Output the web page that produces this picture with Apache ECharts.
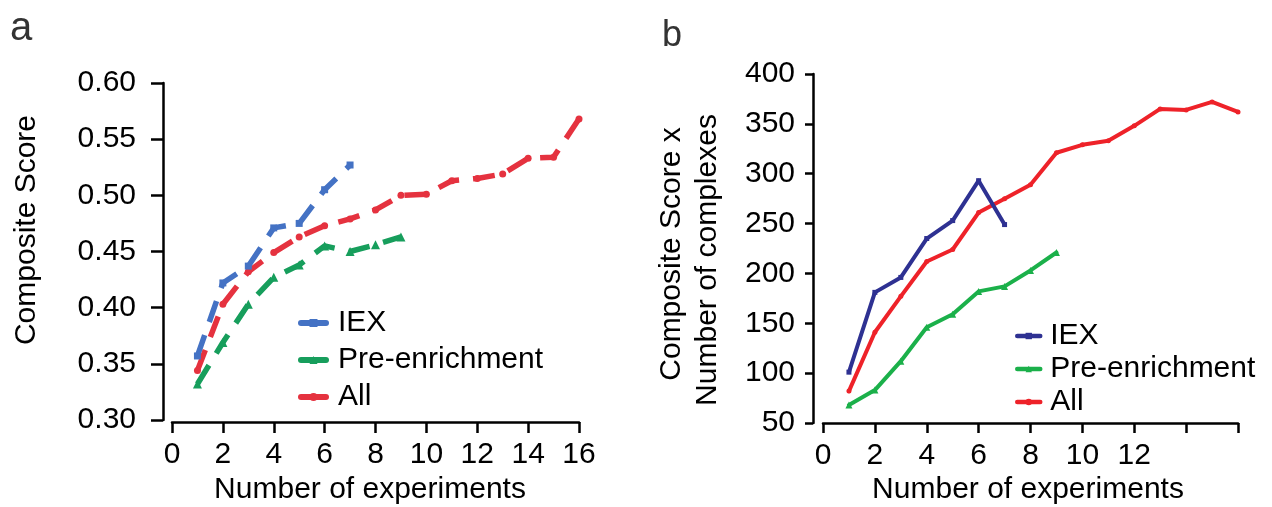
<!DOCTYPE html>
<html>
<head>
<meta charset="utf-8">
<title>Composite score vs number of experiments</title>
<script src="https://cdn.jsdelivr.net/npm/echarts@6/dist/echarts.min.js"></script>
<style>
  html, body { margin: 0; padding: 0; background: #fff; }
  #chart { width: 1272px; height: 507px; }
</style>
</head>
<body>
<div id="chart"></div>
<script>
// Number of experiments combined (x values)
const experimentsIEX = [1, 2, 3, 4, 5, 6, 7];
const experimentsPre = [1, 2, 3, 4, 5, 6, 7, 8, 9];
const experimentsAll = [1, 2, 3, 4, 5, 6, 7, 8, 9, 10, 11, 12, 13, 14, 15, 16];

// Panel a: composite score
const scoreIEX = [0.357, 0.422, 0.437, 0.471, 0.475, 0.505, 0.527];
const scorePre = [0.332, 0.369, 0.403, 0.427, 0.438, 0.455, 0.450, 0.456, 0.463];
const scoreAll = [0.344, 0.403, 0.432, 0.449, 0.463, 0.473, 0.479, 0.487, 0.500, 0.501, 0.513, 0.515, 0.519, 0.533, 0.534, 0.568];

// Panel b: composite score x number of complexes
const productIEX = [101, 181, 196, 235, 253, 293, 249];
const productPre = [68, 83, 112, 146, 159, 182, 187, 203, 221];
const productAll = [82, 141, 177, 212, 224, 261, 275, 289, 321, 329, 333, 348, 365, 364, 372, 362];

const seriesNames = ['IEX', 'Pre-enrichment', 'All'];
const xTicksBLabelled = [0, 2, 4, 6, 8, 10, 12];

const FONT = '"Liberation Sans", Arial, Helvetica, sans-serif';
const colorsA = ['#4472c4', '#179e5c', '#e5323f'];
const colorsB = ['#2e3192', '#1bb04a', '#ee2229'];
const symbols = ['rect', 'triangle', 'circle'];

function pairs(xs, ys) { return xs.map((x, i) => [x, ys[i]]); }

const axisLineStyle = { color: '#000', width: 2.5 };
const tickStyle = { color: '#000', width: 2.5 };
const labelStyle = { color: '#000', fontSize: 30, fontFamily: FONT };

const chart = echarts.init(document.getElementById('chart'), null, { renderer: 'canvas' });

const dataA = [pairs(experimentsIEX, scoreIEX), pairs(experimentsPre, scorePre), pairs(experimentsAll, scoreAll)];
const dataB = [pairs(experimentsIEX, productIEX), pairs(experimentsPre, productPre), pairs(experimentsAll, productAll)];

const series = [];
seriesNames.forEach((name, i) => {
  series.push({
    name: name, type: 'line', xAxisIndex: 0, yAxisIndex: 0,
    data: dataA[i], symbol: symbols[i], symbolSize: i === 1 ? 9 : 7,
    showAllSymbol: true, animation: false,
    itemStyle: { color: colorsA[i] },
    lineStyle: { color: colorsA[i], width: 5.5, type: [22, 14], cap: 'butt' },
    z: 3 - i
  });
});
seriesNames.forEach((name, i) => {
  series.push({
    name: name + ' ', type: 'line', xAxisIndex: 1, yAxisIndex: 1,
    data: dataB[i], symbol: symbols[i], symbolSize: i === 1 ? 7 : 5,
    showAllSymbol: true, animation: false,
    itemStyle: { color: colorsB[i] },
    lineStyle: { color: colorsB[i], width: 4, type: 'solid', cap: 'round', join: 'round' },
    z: 3 - i
  });
});

const legendText = { color: '#000', fontSize: 30, fontFamily: FONT, lineHeight: 30, padding: [0, 0, 0, 7] };

// Legend swatches: the series' own line-plus-marker icon, drawn with a solid stroke
function legendItems(suffix, colors, width) {
  return seriesNames.map((n, i) => ({
    name: n + suffix,
    itemStyle: { color: colors[i], borderWidth: 0 },
    lineStyle: { color: colors[i], width: width, type: 'solid', cap: 'round' }
  }));
}

const option = {
  backgroundColor: '#fff',
  animation: false,
  grid: [
    { left: 172, top: 83, width: 407, height: 337 },
    { left: 823, top: 74, width: 415, height: 349 }
  ],
  xAxis: [
    {
      gridIndex: 0, type: 'value', min: 0, max: 16, interval: 2, offset: 2,
      axisLine: { show: true, onZero: false, lineStyle: axisLineStyle },
      axisTick: { show: true, length: 11, lineStyle: tickStyle },
      axisLabel: Object.assign({ margin: 18 }, labelStyle),
      splitLine: { show: false }
    },
    {
      gridIndex: 1, type: 'value', min: 0, max: 16, interval: 2, offset: 0,
      axisLine: { show: true, onZero: false, lineStyle: axisLineStyle },
      axisTick: { show: true, length: 10, lineStyle: tickStyle },
      axisLabel: Object.assign({
        margin: 18,
        formatter: v => (xTicksBLabelled.indexOf(v) >= 0 ? String(v) : '')
      }, labelStyle),
      splitLine: { show: false }
    }
  ],
  yAxis: [
    {
      gridIndex: 0, type: 'value', min: 0.30, max: 0.60, interval: 0.05, offset: 9,
      axisLine: { show: true, onZero: false, lineStyle: axisLineStyle },
      axisTick: { show: true, length: 12, lineStyle: tickStyle },
      axisLabel: Object.assign({ margin: 27, formatter: v => v.toFixed(2) }, labelStyle),
      splitLine: { show: false }
    },
    {
      gridIndex: 1, type: 'value', min: 50, max: 400, interval: 50, offset: 10,
      axisLine: { show: true, onZero: false, lineStyle: axisLineStyle },
      axisTick: { show: true, length: 8, lineStyle: tickStyle },
      axisLabel: Object.assign({ margin: 18 }, labelStyle),
      splitLine: { show: false }
    }
  ],
  legend: [
    {
      orient: 'vertical', left: 293, top: 303, itemWidth: 25, itemHeight: 10, itemGap: 7,
      selectedMode: false, textStyle: legendText,
      lineStyle: { type: 'solid', width: 6 },
      data: legendItems('', colorsA, 6)
    },
    {
      orient: 'vertical', left: 1010, top: 316, itemWidth: 23, itemHeight: 8, itemGap: 3,
      selectedMode: false, textStyle: Object.assign({}, legendText, { padding: [0, 0, 0, 5] }),
      lineStyle: { type: 'solid', width: 4.5 },
      data: legendItems(' ', colorsB, 4.5)
    }
  ],
  graphic: [
    { type: 'text', left: 10, top: 9, style: { text: 'a', font: '40px ' + FONT, fill: '#333' } },
    { type: 'text', left: 662, top: 18, style: { text: 'b', font: '36px ' + FONT, fill: '#333' } },
    {
      type: 'text', x: 27, y: 230, rotation: Math.PI / 2,
      style: { text: 'Composite Score', font: '30px ' + FONT, fill: '#000', align: 'center', verticalAlign: 'middle' }
    },
    {
      type: 'text', x: 672, y: 254, rotation: Math.PI / 2,
      style: { text: 'Composite Score x', font: '30px ' + FONT, fill: '#000', align: 'center', verticalAlign: 'middle' }
    },
    {
      type: 'text', x: 708, y: 260, rotation: Math.PI / 2,
      style: { text: 'Number of complexes', font: '30px ' + FONT, fill: '#000', align: 'center', verticalAlign: 'middle' }
    },
    {
      type: 'text', x: 370, y: 490,
      style: { text: 'Number of experiments', font: '30px ' + FONT, fill: '#000', align: 'center', verticalAlign: 'middle' }
    },
    {
      type: 'text', x: 1028, y: 490,
      style: { text: 'Number of experiments', font: '30px ' + FONT, fill: '#000', align: 'center', verticalAlign: 'middle' }
    }
  ],
  series: series
};

chart.setOption(option);
</script>
</body>
</html>
